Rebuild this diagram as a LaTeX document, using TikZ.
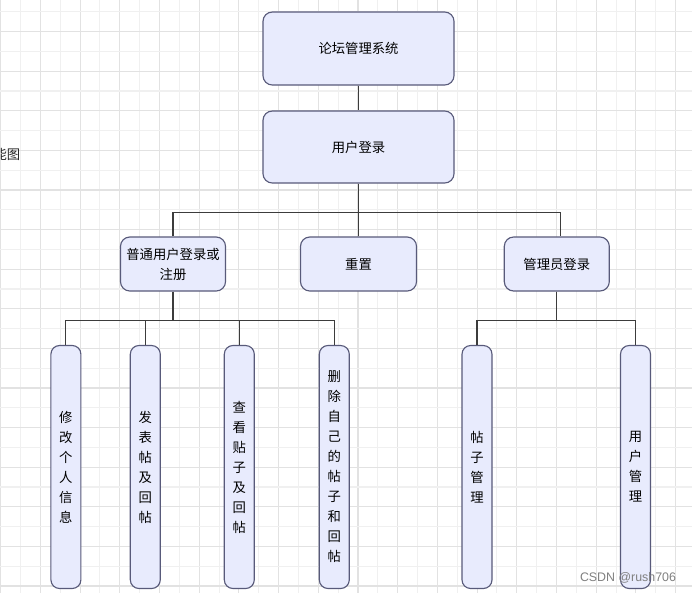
\documentclass[tikz,border=0pt]{standalone}
\usepackage{fontspec}
\newfontfamily\cjk{Noto Sans CJK SC}
\newfontfamily\wm{Liberation Sans}
\definecolor{boxfill}{RGB}{232,235,253}
\definecolor{boxline}{RGB}{88,90,122}
\definecolor{linec}{RGB}{60,60,60}
\definecolor{gridminor}{RGB}{240,240,240}
\definecolor{gridmajor}{RGB}{226,226,226}
\def\px{*0.75pt}
\begin{document}
\begin{tikzpicture}[x=0.75pt,y=-0.75pt,
  box/.style={draw=boxline, fill=boxfill, rounded corners=7pt, line width=0.85pt,
    font=\cjk\fontsize{10}{15}\selectfont, align=center, inner sep=0pt},
  bigbox/.style={box, minimum width=191\px, minimum height=73\px},
  midbox/.style={box, minimum height=54\px},
  leaf/.style={box, minimum width=30\px, minimum height=243\px, rounded corners=6.5pt},
  conn/.style={draw=linec, line width=0.8pt}]
\clip (0,0) rectangle (692,593);
\fill[white] (0,0) rectangle (692,593);
% grid
\foreach \k in {0,...,35}{
  \pgfmathsetmacro{\gx}{0.7+19.85*\k}
  \pgfmathtruncatemacro{\odd}{mod(\k,2)}
  \ifnum\odd=0 \draw[gridmajor, line width=0.8pt] (\gx,0) -- (\gx,593);
  \else \draw[gridminor, line width=0.8pt] (\gx,0) -- (\gx,593); \fi
}
\foreach \k in {0,...,30}{
  \pgfmathsetmacro{\gy}{11.8+19.8*\k}
  \pgfmathtruncatemacro{\odd}{mod(\k,2)}
  \ifnum\odd=1 \draw[gridmajor, line width=0.8pt] (0,\gy) -- (692,\gy);
  \else \draw[gridminor, line width=0.8pt] (0,\gy) -- (692,\gy); \fi
}
% side label (cut off by the page edge)
\node[anchor=east, inner sep=0pt, font=\cjk\fontsize{10}{12}\selectfont, text=black!85] (side) at (20.5,154.5) {功能图};
% boxes
\node[bigbox] (sys) at (358.5,48.5) {论坛管理系统};
\node[bigbox, minimum height=72\px] (login) at (358.5,147) {用户登录};
\node[midbox, minimum width=105\px] (normal) at (173,264) {普通用户登录或\\注册};
\node[midbox, minimum width=116\px] (reset) at (358.5,264) {重置};
\node[midbox, minimum width=105\px] (admin) at (556.8,264) {管理员登录};
\node[leaf] (l1) at (65.9,467) {修\\改\\个\\人\\信\\息};
\node[leaf] (l2) at (145.3,467) {发\\表\\帖\\及\\回\\帖};
\node[leaf] (l3) at (239.3,467) {查\\看\\贴\\子\\及\\回\\帖};
\node[leaf] (l4) at (334.3,467) {删\\除\\自\\己\\的\\帖\\子\\和\\回\\帖};
\node[leaf] (l5) at (477,467) {帖\\子\\管\\理};
\node[leaf] (l6) at (635.5,467) {用\\户\\管\\理};
% bus coordinates
\coordinate (b1l) at (173,212.3);
\coordinate (b1r) at (560.7,212.3);
\coordinate (b2) at (0,320.7);
% connectors
\draw[conn] (sys.south) -- (login.north);
\draw[conn] (login.south) -- (login.south |- b1l);
\draw[conn] (normal.north) |- (b1r) -- (b1r |- admin.north);
\draw[conn] (reset.north) -- (reset.north |- b1l);
\draw[conn] (normal.south) -- (normal.south |- b2);
\draw[conn] (l1.north) |- (l4.north |- b2) -- (l4.north);
\draw[conn] (l2.north) -- (l2.north |- b2);
\draw[conn] (l3.north) -- (l3.north |- b2);
\draw[conn] (admin.south) -- (admin.south |- b2);
\draw[conn] (l5.north) |- (l6.north |- b2) -- (l6.north);
% watermark
\node[anchor=center, inner sep=0pt, font=\wm\fontsize{9.3}{11}\selectfont, text=black!50] (mark) at (628,578) {CSDN @rush706};
\end{tikzpicture}
\end{document}
